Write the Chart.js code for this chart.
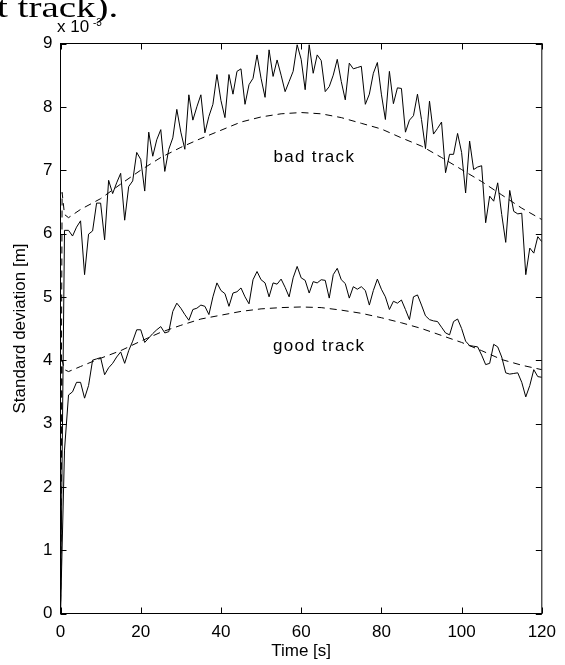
<!DOCTYPE html>
<html>
<head>
<meta charset="utf-8">
<script src="https://cdn.jsdelivr.net/npm/chart.js@4.4.1/dist/chart.umd.min.js"></script>
<style>
  body { margin: 0; background: #fff; }
  canvas { display: block; }
</style>
</head>
<body>
<canvas id="sd" width="565" height="665"></canvas>
<script>
// time axis [s], one sample per second
const seconds = [
  0, 1, 2, 3, 4, 5, 6, 7, 8, 9, 10, 11, 12, 13, 14, 15, 16, 17, 18, 19,
  20, 21, 22, 23, 24, 25, 26, 27, 28, 29, 30, 31, 32, 33, 34, 35, 36, 37, 38, 39,
  40, 41, 42, 43, 44, 45, 46, 47, 48, 49, 50, 51, 52, 53, 54, 55, 56, 57, 58, 59,
  60, 61, 62, 63, 64, 65, 66, 67, 68, 69, 70, 71, 72, 73, 74, 75, 76, 77, 78, 79,
  80, 81, 82, 83, 84, 85, 86, 87, 88, 89, 90, 91, 92, 93, 94, 95, 96, 97, 98, 99,
  100, 101, 102, 103, 104, 105, 106, 107, 108, 109, 110, 111, 112, 113, 114, 115, 116, 117, 118, 119,
  120
];

// measured std deviation (x 1e-3 m)
const badMeasured = [
  0, 6.05, 6.05, 5.96, 6.1, 6.2, 5.35, 5.99, 6.04, 6.48,
  6.48, 5.9, 6.84, 6.63, 6.8, 6.95, 6.21, 6.74, 6.83, 7.28,
  7.17, 6.67, 7.6, 7.22, 7.48, 7.64, 6.98, 7.33, 7.51, 7.96,
  7.6, 7.33, 8.19, 7.79, 8.0, 8.19, 7.59, 7.85, 8.04, 8.51,
  8.1, 7.83, 8.51, 8.2, 8.56, 8.6, 8.04, 8.35, 8.45, 8.82,
  8.45, 8.15, 8.9, 8.48, 8.74, 8.5, 8.24, 8.4, 8.56, 8.98,
  8.75, 8.27, 8.98, 8.53, 8.82, 8.73, 8.24, 8.32, 8.5, 8.75,
  8.4, 8.11, 8.69, 8.6, 8.62, 8.64, 8.04, 8.2, 8.53, 8.7,
  8.2, 7.8, 8.56, 8.05, 8.3, 8.29, 7.6, 7.79, 7.86, 8.2,
  7.8, 7.34, 8.09, 7.57, 7.66, 7.76, 6.96, 7.25, 7.25, 7.58,
  7.28, 6.64, 7.46, 7.01, 7.05, 7.07, 6.17, 6.59, 6.51, 6.8,
  6.3, 5.86, 6.68, 6.35, 6.31, 6.32, 5.35, 5.77, 5.69, 5.95,
  5.87
];

const goodMeasured = [
  0, 2.58, 3.45, 3.5, 3.65, 3.65, 3.4, 3.6, 4.0, 4.02,
  4.04, 3.77, 3.88, 3.95, 4.05, 4.13, 3.95, 4.15, 4.3, 4.48,
  4.48, 4.28, 4.35, 4.42, 4.48, 4.53, 4.43, 4.45, 4.77, 4.9,
  4.82, 4.72, 4.63, 4.8, 4.82, 4.87, 4.85, 4.72, 5.0, 5.22,
  5.1, 5.05, 4.85, 5.06, 5.08, 5.14, 5.0, 4.89, 5.27, 5.4,
  5.27, 5.22, 5.0, 5.22, 5.2, 5.28, 5.15, 5.0, 5.3, 5.48,
  5.3, 5.26, 5.06, 5.24, 5.22, 5.27, 5.26, 4.98, 5.35, 5.45,
  5.27, 5.21, 4.98, 5.16, 5.12, 5.16, 5.1, 4.87, 5.1, 5.28,
  5.12, 5.0, 4.8, 4.93, 4.9, 4.95, 4.8, 4.64, 5.0, 5.03,
  4.87, 4.7, 4.64, 4.62, 4.61, 4.52, 4.43, 4.4, 4.61, 4.65,
  4.5, 4.3, 4.23, 4.22, 4.21, 4.08, 3.93, 3.95, 4.25, 4.21,
  4.05, 3.8, 3.78, 3.79, 3.8, 3.65, 3.42, 3.6, 3.85, 3.74,
  3.73
];

// predicted (dashed) curves
const predTime = [0, 0.4, 1, 2, 5, 10, 15, 20, 25, 30, 35, 40, 45, 50, 55, 60,
  65, 70, 75, 80, 85, 90, 95, 100, 105, 110, 115, 120];
const badPredicted = [0, 6.65, 6.3, 6.25, 6.38, 6.55, 6.78, 7.0, 7.2, 7.36, 7.5, 7.63,
  7.76, 7.84, 7.89, 7.91, 7.89, 7.83, 7.74, 7.65, 7.51, 7.38, 7.2, 7.01, 6.82, 6.61, 6.4, 6.22];
const goodPredicted = [0, 4.0, 3.85, 3.82, 3.9, 4.03, 4.15, 4.3, 4.44, 4.55, 4.65, 4.71,
  4.77, 4.81, 4.83, 4.84, 4.83, 4.79, 4.74, 4.67, 4.59, 4.5, 4.39, 4.28, 4.15, 4.01, 3.92, 3.85];

const xTicks = [0, 20, 40, 60, 80, 100, 120];
const yTicks = [0, 1, 2, 3, 4, 5, 6, 7, 8, 9];

const pts = (xs, ys) => xs.map((x, i) => ({ x: x, y: ys[i] }));

const sans = '"Liberation Sans", Arial, sans-serif';

const solid = { borderColor: '#000', borderWidth: 1, pointRadius: 0, tension: 0, fill: false };
const dashed = { borderColor: '#000', borderWidth: 1, pointRadius: 0, tension: 0, fill: false, borderDash: [7, 5] };

// box, inside ticks and the extra texts
const matlabLook = {
  id: 'matlabLook',
  afterDatasetsDraw(chart) {
    const { ctx, chartArea: a, scales: { x, y } } = chart;
    ctx.save();
    ctx.strokeStyle = '#000';
    ctx.lineWidth = 1;
    ctx.strokeRect(a.left, a.top, a.right - a.left, a.bottom - a.top);
    ctx.beginPath();
    xTicks.forEach(v => {
      const px = Math.round(x.getPixelForValue(v)) + 0.5;
      ctx.moveTo(px, a.bottom); ctx.lineTo(px, a.bottom - 6);
      ctx.moveTo(px, a.top); ctx.lineTo(px, a.top + 6);
    });
    yTicks.forEach(v => {
      const py = Math.round(y.getPixelForValue(v)) + 0.5;
      ctx.moveTo(a.left, py); ctx.lineTo(a.left + 6, py);
      ctx.moveTo(a.right, py); ctx.lineTo(a.right - 6, py);
    });
    ctx.stroke();

    ctx.fillStyle = '#000';
    ctx.textAlign = 'center';
    ctx.textBaseline = 'middle';
    ctx.font = '17px ' + sans;
    ctx.letterSpacing = '1.3px';
    ctx.fillText('bad track', x.getPixelForValue(63.3), y.getPixelForValue(7.2));
    ctx.fillText('good track', x.getPixelForValue(64.5), y.getPixelForValue(4.22));
    ctx.letterSpacing = '0px';

    ctx.fillText('Time [s]', (a.left + a.right) / 2, 651);

    ctx.save();
    ctx.translate(20, (a.top + a.bottom) / 2);
    ctx.rotate(-Math.PI / 2);
    ctx.fillText('Standard deviation [m]', 0, 0);
    ctx.restore();

    // leftover of the caption above the figure
    ctx.textAlign = 'left';
    ctx.textBaseline = 'alphabetic';
    ctx.font = '30px "Liberation Serif", "Times New Roman", serif';
    ctx.save();
    ctx.translate(-3, 17);
    ctx.scale(1.3, 1);
    ctx.fillText('t track).', 0, 0);
    ctx.restore();

    ctx.font = '17px ' + sans;
    ctx.fillText('x 10', 57, 32);
    ctx.font = '10px ' + sans;
    ctx.fillText('-3', 93, 26);
    ctx.restore();
  }
};

new Chart(document.getElementById('sd'), {
  type: 'line',
  data: {
    datasets: [
      { ...solid, data: pts(seconds, badMeasured) },
      { ...solid, data: pts(seconds, goodMeasured) },
      { ...dashed, data: pts(predTime, badPredicted) },
      { ...dashed, data: pts(predTime, goodPredicted) }
    ]
  },
  options: {
    responsive: false,
    animation: false,
    layout: { padding: { left: 0, top: 43.5, right: 21.5, bottom: 0 } },
    plugins: { legend: { display: false }, tooltip: { enabled: false } },
    scales: {
      x: {
        type: 'linear',
        min: 0, max: 120,
        afterFit: s => { s.height = 51.5; },
        afterBuildTicks: s => { s.ticks = xTicks.map(v => ({ value: v })); },
        grid: { display: false, drawTicks: false },
        border: { display: false },
        ticks: { color: '#000', font: { size: 17, family: sans }, padding: 9, maxRotation: 0 }
      },
      y: {
        min: 0, max: 9,
        afterFit: s => { s.width = 60.5; },
        afterBuildTicks: s => { s.ticks = yTicks.map(v => ({ value: v })); },
        grid: { display: false, drawTicks: false },
        border: { display: false },
        ticks: { color: '#000', font: { size: 17, family: sans }, padding: 8 }
      }
    }
  },
  plugins: [matlabLook]
});
</script>
</body>
</html>
